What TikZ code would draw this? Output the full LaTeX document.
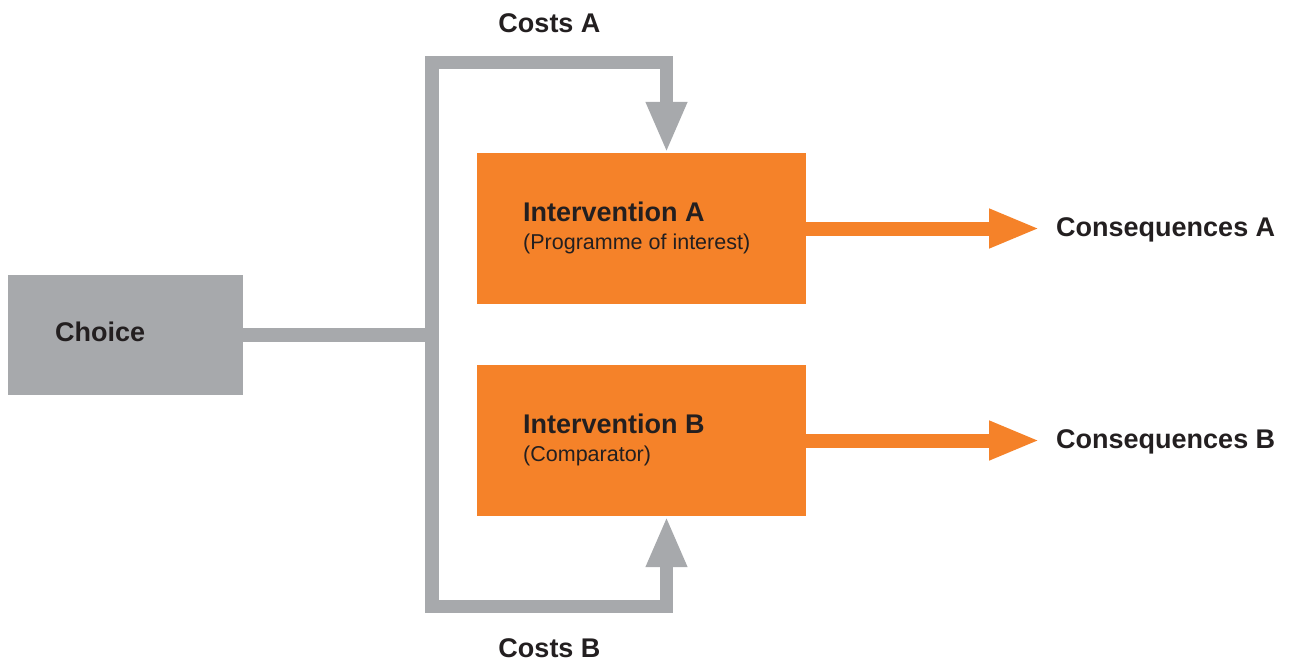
\documentclass[tikz,border=0pt]{standalone}
\usepackage{fontspec}
\setmainfont{Liberation Sans}
\usetikzlibrary{arrows.meta}
\definecolor{cgray}{HTML}{A7A9AC}
\definecolor{corange}{HTML}{F58229}
\definecolor{ctext}{HTML}{231F20}
\begin{document}
\begin{tikzpicture}[x=1pt,y=-1pt,
  lbl/.style={font=\fontsize{27}{32}\selectfont\bfseries, text=ctext, inner sep=0pt},
  sub/.style={font=\fontsize{21.5}{26}\selectfont, text=ctext, inner sep=0pt},
  obox/.style={fill=corange, draw=none, minimum width=329pt, minimum height=151pt, inner sep=0pt},
  gbox/.style={fill=cgray, draw=none, minimum width=235pt, minimum height=120pt, inner sep=0pt},
  gline/.style={draw=cgray, line width=13.5pt, line join=miter, line cap=butt},
  oline/.style={draw=corange, line width=14pt, line cap=butt},
  garrow/.style={-{Triangle[width=38pt,length=51pt]}},
  oarrow/.style={-{Triangle[width=36pt,length=51pt]}}
]
\useasboundingbox (0,0) rectangle (1290,665);
% boxes
\node[gbox] (choice) at (125.5,335) {};
\node[lbl, anchor=base west] (choicet) at (55,341.5) {Choice};
\node[obox] (boxA) at (641.5,228.5) {};
\node[obox] (boxB) at (641.5,440.5) {};
\node[lbl, anchor=base west] (intA) at (523,221) {Intervention A};
\node[sub, anchor=base west] (subA) at (523,249) {(Programme of interest)};
\node[lbl, anchor=base west] (intB) at (523,433) {Intervention B};
\node[sub, anchor=base west] (subB) at (523,461) {(Comparator)};
% gray connectors
\coordinate (j) at (432,335);
\coordinate (ta) at (666.5,62.5);
\coordinate (tb) at (666.5,606.5);
\draw[gline] (choice.east) -- (j);
\draw[gline, garrow] (j) |- (ta) -- (ta |- boxA.north);
\draw[gline, garrow] (j) |- (tb) -- (tb |- boxB.south);
\node[lbl, anchor=base] (costA) at (549.5,32) {Costs A};
\node[lbl, anchor=base] (costB) at (549.5,657) {Costs B};
% orange arrows
\coordinate (ca) at (1040,228.5);
\coordinate (cb) at (1040,440.5);
\draw[oline, oarrow] (boxA.east) -- (ca);
\draw[oline, oarrow] (boxB.east) -- (cb);
\node[lbl, anchor=base west] (consA) at (1056,236) {Consequences A};
\node[lbl, anchor=base west] (consB) at (1056,448) {Consequences B};
\end{tikzpicture}
\end{document}
